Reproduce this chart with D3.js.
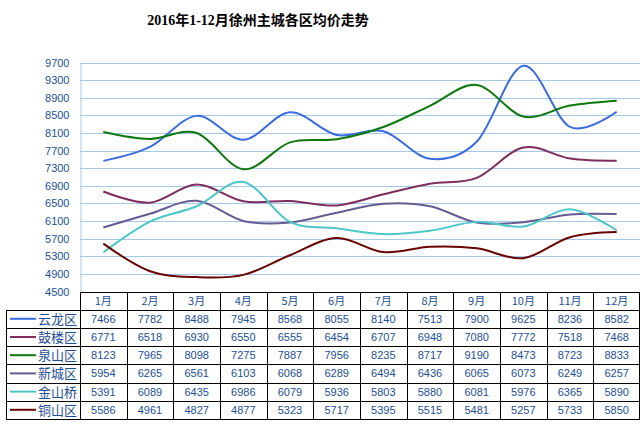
<!DOCTYPE html>
<html>
<head>
<meta charset="utf-8">
<script src="https://cdn.jsdelivr.net/npm/d3@7"></script>
<style>
  body { margin: 0; background: #fff; }
  svg { display: block; }
</style>
</head>
<body>
<div id="chart"></div>
<script>
const width = 643;
const height = 425;

// data
const months = ["1月", "2月", "3月", "4月", "5月", "6月", "7月", "8月", "9月", "10月", "11月", "12月"];
const districts = ["云龙区", "鼓楼区", "泉山区", "新城区", "金山桥", "铜山区"];
const yunlong = [7466, 7782, 8488, 7945, 8568, 8055, 8140, 7513, 7900, 9625, 8236, 8582];
const gulou = [6771, 6518, 6930, 6550, 6555, 6454, 6707, 6948, 7080, 7772, 7518, 7468];
const quanshan = [8123, 7965, 8098, 7275, 7887, 7956, 8235, 8717, 9190, 8473, 8723, 8833];
const xincheng = [5954, 6265, 6561, 6103, 6068, 6289, 6494, 6436, 6065, 6073, 6249, 6257];
const jinshanqiao = [5391, 6089, 6435, 6986, 6079, 5936, 5803, 5880, 6081, 5976, 6365, 5890];
const tongshan = [5586, 4961, 4827, 4877, 5323, 5717, 5395, 5515, 5481, 5257, 5733, 5850];
const yTicks = [4500, 4900, 5300, 5700, 6100, 6500, 6900, 7300, 7700, 8100, 8500, 8900, 9300, 9700];

const seriesValues = [yunlong, gulou, quanshan, xincheng, jinshanqiao, tongshan];
const colours = ["#3a6be0", "#7d2d5e", "#0d780d", "#665c92", "#4cc6c6", "#680404"];

const plotLeft = 80, plotRight = 640, plotTop = 62.5, plotBottom = 291.5;
const rowH = 18.2;
const tableLeft = 6;

const svg = d3.select("#chart").append("svg")
    .attr("width", width)
    .attr("height", height);

const x = d3.scaleBand().domain(months).range([plotLeft, plotRight]);
const y = d3.scaleLinear().domain([4500, 9700]).range([plotBottom, plotTop]);

// title
svg.append("text")
    .attr("x", 258)
    .attr("y", 25)
    .attr("text-anchor", "middle")
    .style("font-family", "'Liberation Serif', 'Noto Sans CJK SC', serif")
    .style("font-weight", "bold")
    .style("font-size", "14px")
    .text("2016年1-12月徐州主城各区均价走势");

// gridlines
svg.append("g")
    .selectAll("line")
    .data(yTicks)
    .enter()
    .append("line")
    .attr("x1", plotLeft)
    .attr("x2", plotRight)
    .attr("y1", d => Math.round(y(d)) + 0.5)
    .attr("y2", d => Math.round(y(d)) + 0.5)
    .attr("stroke", "#a7c9e6")
    .attr("stroke-width", 1);

// y axis
const yAxis = svg.append("g")
    .attr("transform", "translate(" + (plotLeft + 0.5) + ",0)")
    .call(d3.axisLeft(y).tickValues(yTicks).tickSize(0).tickPadding(11).tickFormat(d3.format("d")));
yAxis.select(".domain").attr("stroke", "#a7c9e6");
yAxis.selectAll("text")
    .attr("fill", "#1d4f96")
    .style("font-family", "'Liberation Sans', Arial, sans-serif")
    .style("font-size", "11px");

// lines
const line = d3.line()
    .x((d, i) => x(months[i]) + x.bandwidth() / 2)
    .y(d => y(d))
    .curve(d3.curveCatmullRom.alpha(0));

svg.append("g")
    .selectAll("path")
    .data(seriesValues)
    .enter()
    .append("path")
    .attr("d", line)
    .attr("fill", "none")
    .attr("stroke", (d, i) => colours[i])
    .attr("stroke-width", 2);

// data table
const table = svg.append("g");
const tableTop = plotBottom;
const bodyTop = tableTop + rowH;
const tableBottom = bodyTop + rowH * districts.length;

// header labels
table.selectAll(".mlabel")
    .data(months)
    .enter()
    .append("text")
    .attr("class", "mlabel")
    .attr("x", d => x(d) + x.bandwidth() / 2)
    .attr("y", tableTop + rowH / 2 + 4)
    .attr("text-anchor", "middle")
    .attr("fill", "#1d4f96")
    .style("font-family", "'Noto Sans CJK SC', sans-serif")
    .style("font-size", "11px")
    .text(d => d);

// rows
districts.forEach((name, r) => {
    const cy = bodyTop + rowH * r + rowH / 2;
    table.append("line")
        .attr("x1", 10).attr("x2", 36)
        .attr("y1", cy).attr("y2", cy)
        .attr("stroke", colours[r])
        .attr("stroke-width", 2);
    table.append("text")
        .attr("x", 38)
        .attr("y", cy + 5)
        .attr("fill", "#1d4f96")
        .style("font-family", "'Noto Sans CJK SC', sans-serif")
        .style("font-size", "13px")
        .text(name);
    table.selectAll(".v" + r)
        .data(seriesValues[r])
        .enter()
        .append("text")
        .attr("class", "v" + r)
        .attr("x", (d, i) => x(months[i]) + x.bandwidth() / 2)
        .attr("y", cy + 4)
        .attr("text-anchor", "middle")
        .attr("fill", "#1d4f96")
        .style("font-family", "'Liberation Sans', Arial, sans-serif")
        .style("font-size", "11px")
        .text(d => d);
});

// table borders
const hLines = [tableTop, bodyTop];
districts.forEach((n, r) => hLines.push(bodyTop + rowH * (r + 1)));
hLines.forEach((yy, i) => {
    table.append("line")
        .attr("x1", i === 0 ? plotLeft : tableLeft)
        .attr("x2", plotRight)
        .attr("y1", Math.round(yy) + 0.5)
        .attr("y2", Math.round(yy) + 0.5)
        .attr("stroke", "#000");
});
table.append("line")
    .attr("x1", tableLeft + 0.5).attr("x2", tableLeft + 0.5)
    .attr("y1", Math.round(bodyTop) + 0.5).attr("y2", Math.round(tableBottom) + 0.5)
    .attr("stroke", "#000");
months.forEach(m => {
    const xx = Math.round(x(m)) + 0.5;
    table.append("line")
        .attr("x1", xx).attr("x2", xx)
        .attr("y1", Math.round(tableTop) + 0.5).attr("y2", Math.round(tableBottom) + 0.5)
        .attr("stroke", "#000");
});
table.append("line")
    .attr("x1", plotRight - 0.5).attr("x2", plotRight - 0.5)
    .attr("y1", Math.round(tableTop) + 0.5).attr("y2", Math.round(tableBottom) + 0.5)
    .attr("stroke", "#000");
</script>
</body>
</html>
